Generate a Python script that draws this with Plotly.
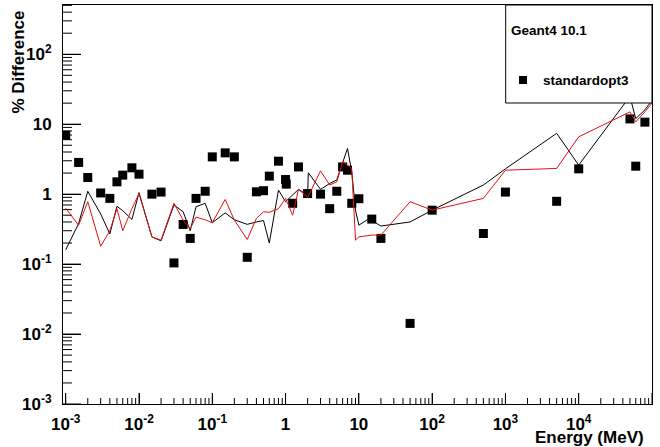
import plotly.graph_objects as go

# ---- data ----
energy_pts = [0.001, 0.0015, 0.002, 0.003, 0.004, 0.005, 0.006, 0.008, 0.01, 0.015,
              0.02, 0.03, 0.04, 0.05, 0.06, 0.08, 0.1, 0.15, 0.2, 0.3,
              0.4, 0.5, 0.6, 0.8, 1.0, 1.022, 1.25, 1.5, 2, 3,
              4, 5, 6, 7, 8, 10, 15, 20, 50, 100,
              500, 1000, 5000, 10000, 50000, 60000, 80000]
diff_pts = [6.96, 2.84, 1.73, 1.04, 0.87, 1.5, 1.87, 2.38, 1.93, 1.0,
            1.07, 0.104, 0.369, 0.233, 0.87, 1.1, 3.41, 3.89, 3.41, 0.125,
            1.08, 1.12, 1.81, 2.96, 1.62, 1.39, 0.74, 2.45, 1.02, 1.0,
            0.62, 1.1, 2.45, 2.2, 0.74, 0.86, 0.44, 0.233, 0.0142, 0.59,
            0.274, 1.07, 0.79, 2.3, 11.9, 2.51, 10.7]

black_x = [0.001, 0.0015, 0.002, 0.003, 0.004, 0.005, 0.006, 0.008, 0.01, 0.015,
           0.02, 0.03, 0.04, 0.05, 0.06, 0.08, 0.1, 0.15, 0.2, 0.3,
           0.4, 0.5, 0.6, 0.8, 1.0, 1.5, 2.0, 2.044, 3, 4,
           5, 6, 7, 8, 9, 10, 13, 15, 20, 50,
           100, 500, 1000, 5000, 10000, 50000, 60000, 80000, 100000]
black_y = [0.16, 0.38, 1.1, 0.52, 0.27, 0.67, 0.58, 0.435, 1.05, 0.245,
           0.215, 0.7, 0.56, 0.3, 0.66, 0.74, 0.39, 0.54, 0.43, 0.37,
           0.4, 0.42, 0.2, 1.14, 0.78, 1.17, 0.97, 2.02, 1.17, 1.42,
           1.6, 2.74, 4.5, 2.08, 0.59, 0.36, 0.43, 0.42, 0.35, 0.40,
           0.59, 1.35, 2.3, 7.4, 2.6, 25, 12, 16, 22]

red_x = [0.001, 0.0015, 0.002, 0.003, 0.004, 0.005, 0.006, 0.008, 0.01, 0.015,
         0.02, 0.03, 0.04, 0.05, 0.06, 0.08, 0.1, 0.15, 0.2, 0.3,
         0.4, 0.5, 0.6, 0.8, 1.0, 1.25, 1.5, 2, 3, 4,
         5, 6, 7, 8, 9, 10, 15, 20, 50, 100,
         500, 1000, 5000, 10000, 50000, 60000, 80000, 100000]
red_y = [0.63, 0.36, 0.78, 0.18, 0.3, 0.62, 0.3, 0.62, 1.02, 0.245,
         0.22, 0.74, 0.425, 0.32, 0.47, 0.43, 0.39, 0.84, 0.425, 0.225,
         0.45, 0.56, 0.55, 0.62, 0.87, 0.5, 1.17, 0.9, 2.15, 1.35,
         1.5, 2.9, 2.6, 2.3, 0.22, 0.245, 0.26, 0.26, 0.78, 0.59,
         0.87, 2.2, 2.33, 6.6, 15, 10.8, 15, 20]

x_tickvals = [1e-3, 1e-2, 1e-1, 1, 10, 1e2, 1e3, 1e4, 1e5]
x_ticktext = ["10<sup>-3</sup>", "10<sup>-2</sup>", "10<sup>-1</sup>", "1", "10",
              "10<sup>2</sup>", "10<sup>3</sup>", "10<sup>4</sup>", "10<sup>5</sup>"]
y_tickvals = [1e-3, 1e-2, 1e-1, 1, 10, 1e2]
y_ticktext = ["10<sup>-3</sup>", "10<sup>-2</sup>", "10<sup>-1</sup>", "1", "10",
              "10<sup>2</sup>"]
minor_digits = [2, 3, 4, 5, 6, 7, 8, 9]

FONT = "Liberation Sans, Arial, Helvetica, sans-serif"
XRANGE = [-3.037, 5]
YRANGE = [-3, 2.704]
PLOT_W, PLOT_H = 589, 399  # plot-area size in pixels (660-63-8, 447-5-43)

x_minor = [d * v for v in x_tickvals[:-1] for d in minor_digits]
y_minor = [d * v for v in y_tickvals for d in minor_digits if d * v < 10 ** YRANGE[1]]


def x_at_px(px):
    """x data value that lies px pixels right of the left frame"""
    return 10 ** (XRANGE[0] + px / PLOT_W * (XRANGE[1] - XRANGE[0]))


def y_at_px(px):
    """y data value that lies px pixels above the bottom frame"""
    return 10 ** (YRANGE[0] + px / PLOT_H * (YRANGE[1] - YRANGE[0]))


# ROOT-style inward tick marks, built as line segments on the axes' own scales
tx, ty = [], []
for v, ln in [(v, 11) for v in x_tickvals] + [(v, 6) for v in x_minor]:
    tx += [v, v, None]
    ty += [y_at_px(0), y_at_px(ln), None]
for v, ln in [(v, 18) for v in y_tickvals] + [(v, 9) for v in y_minor]:
    tx += [x_at_px(0), x_at_px(ln), None]
    ty += [v, v, None]

fig = go.Figure()
fig.add_trace(go.Scatter(x=tx, y=ty, mode="lines", line=dict(color="black", width=1),
                         hoverinfo="skip", showlegend=False, connectgaps=False))
fig.add_trace(go.Scatter(x=energy_pts, y=diff_pts, mode="markers",
                         marker=dict(symbol="square", size=9, color="black"),
                         name="standardopt3", showlegend=False))
fig.add_trace(go.Scatter(x=black_x, y=black_y, mode="lines",
                         line=dict(color="black", width=1), showlegend=False))
fig.add_trace(go.Scatter(x=red_x, y=red_y, mode="lines",
                         line=dict(color="#e01010", width=1), showlegend=False))

fig.update_layout(
    template="none",
    width=660, height=447,
    margin=dict(l=63, r=8, t=5, b=43, autoexpand=False),
    paper_bgcolor="white", plot_bgcolor="white",
    font=dict(family=FONT, color="black"),
    showlegend=False,
    xaxis=dict(
        type="log", range=XRANGE, showgrid=False, zeroline=False, automargin=False,
        showline=True, linecolor="black", linewidth=1, mirror=True,
        ticks="inside", ticklen=11, tickcolor="black", tickwidth=1,
        tickmode="array", tickvals=x_tickvals, ticktext=x_ticktext,
        ticklabelstandoff=5,
        tickfont=dict(family=FONT, size=17, weight="bold", color="black"),
    ),
    yaxis=dict(
        type="log", range=YRANGE, showgrid=False, zeroline=False, automargin=False,
        showline=True, linecolor="black", linewidth=1, mirror=True,
        ticks="inside", ticklen=18, tickcolor="black", tickwidth=1,
        tickmode="array", tickvals=y_tickvals, ticktext=y_ticktext,
        ticklabelstandoff=7,
        tickfont=dict(family=FONT, size=17, weight="bold", color="black"),
    ),
)

# legend box (ROOT-style TLegend)
fig.add_shape(type="rect", xref="paper", yref="paper", x0=0.7516, x1=1.0, y0=0.7544, y1=1.0,
              line=dict(color="black", width=1), fillcolor="white", layer="above")
fig.add_shape(type="rect", xref="paper", yref="paper",
              x0=(519 - 63) / 589, x1=(527 - 63) / 589, y0=(404 - 84) / 399, y1=(404 - 76) / 399,
              line=dict(color="black", width=0), fillcolor="black", layer="above")
fig.add_annotation(text="Geant4 10.1", xref="paper", yref="paper", x=(509 - 63) / 589,
                   y=(404 - 30) / 399, xanchor="left", yanchor="middle", showarrow=False,
                   font=dict(family=FONT, size=13.5, weight="bold", color="black"))
fig.add_annotation(text="standardopt3", xref="paper", yref="paper", x=(541 - 63) / 589,
                   y=(404 - 80) / 399, xanchor="left", yanchor="middle", showarrow=False,
                   font=dict(family=FONT, size=13.5, weight="bold", color="black"))

# axis titles
fig.add_annotation(text="% Difference", xref="paper", yref="paper", x=(18 - 63) / 589,
                   y=(404 - 9) / 399, xanchor="center", yanchor="top", textangle=-90,
                   showarrow=False, font=dict(family=FONT, size=17, weight="bold", color="black"))
fig.add_annotation(text="Energy (MeV)", xref="paper", yref="paper", x=(646 - 63) / 589,
                   y=(404 - 437) / 399, xanchor="right", yanchor="middle",
                   showarrow=False, font=dict(family=FONT, size=17, weight="bold", color="black"))

fig.write_html("out.html", post_script="document.body.style.margin='0px';",
               config={"displayModeBar": False})
